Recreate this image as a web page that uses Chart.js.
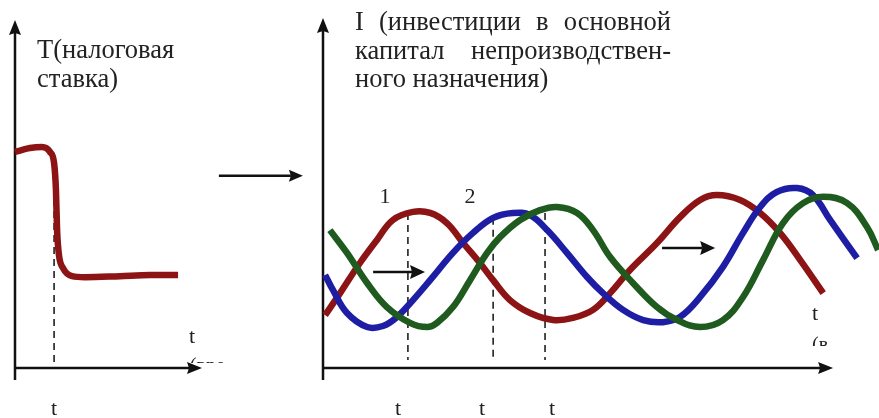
<!DOCTYPE html>
<html lang="ru">
<head>
<meta charset="utf-8">
<title>Налоговая ставка и инвестиции</title>
<script src="https://cdn.jsdelivr.net/npm/chart.js@4.4.1/dist/chart.umd.min.js"></script>
<style>
  html, body { margin: 0; padding: 0; background: #fff; }
  #wrap { position: relative; width: 879px; height: 418px; overflow: hidden;
          font-family: "Liberation Serif", "DejaVu Serif", serif; color: #222; }
  #wrap canvas { position: absolute; left: 0; top: 0; }
  .caption { position: absolute; font-size: 26.5px; line-height: 28.5px; }
  .caption div { white-space: nowrap; }
  #capT { left: 37px; top: 35px; }
  #capI { left: 355px; top: 7px; width: 316px; }
  #capI .just { white-space: normal; text-align: justify; text-align-last: justify; }
</style>
</head>
<body>
<div id="wrap">
  <canvas id="taxChart" width="879" height="418"></canvas>
  <canvas id="investChart" width="879" height="418"></canvas>
  <div class="caption" id="capT">
    <div>T(налоговая</div>
    <div>ставка)</div>
  </div>
  <div class="caption" id="capI">
    <div class="just">I (инвестиции в основной</div>
    <div class="just">капитал непроизводствен-</div>
    <div>ного назначения)</div>
  </div>
</div>
<script>
// === Data ===

// Left panel: tax rate T over time
const taxTime = [0, 0.8, 1.44, 1.87, 2.09, 2.19, 2.25, 2.35, 2.57, 3.05, 3.74, 5.61, 7.22, 8.72];
const taxRate = [6.21, 6.32, 6.35, 6.21, 5.89, 5.11, 3.97, 3.25, 2.87, 2.64, 2.61, 2.64, 2.67, 2.67];

// Right panel: investment curves I over time
const redTime = [0.07, 0.57, 1.23, 1.8, 2.33, 3.0, 3.57, 4.13, 4.67, 5.23, 5.67, 6.23, 6.9, 7.67, 8.33, 9.0, 9.57, 10.23, 11.13, 11.9, 12.57, 13.13, 13.9, 14.57, 15.23, 15.9, 16.67];
const redInvest = [1.51, 2.14, 3.0, 3.66, 4.23, 4.46, 4.43, 4.14, 3.57, 3.0, 2.51, 1.94, 1.57, 1.37, 1.43, 1.66, 2.14, 2.8, 3.57, 4.31, 4.8, 4.94, 4.8, 4.43, 3.86, 3.09, 2.14];

const blueTime = [0.07, 0.33, 0.8, 1.47, 2.0, 2.47, 3.0, 3.57, 4.33, 5.0, 5.67, 6.33, 6.9, 7.47, 8.13, 8.8, 9.33, 10.0, 10.67, 11.33, 11.9, 12.57, 13.33, 14.0, 14.57, 15.13, 15.8, 16.33, 16.9, 17.8];
const blueInvest = [2.66, 2.23, 1.57, 1.17, 1.2, 1.46, 1.94, 2.51, 3.29, 3.86, 4.29, 4.43, 4.37, 3.94, 3.29, 2.6, 2.14, 1.66, 1.37, 1.31, 1.46, 2.03, 2.89, 3.86, 4.6, 5.03, 5.14, 4.94, 4.23, 3.14];

const greenTime = [0.23, 0.8, 1.47, 2.13, 2.9, 3.47, 3.8, 4.33, 4.9, 5.47, 5.9, 6.57, 7.23, 7.8, 8.47, 9.0, 9.57, 10.33, 11.13, 11.8, 12.57, 13.33, 14.0, 14.67, 15.33, 16.0, 16.67, 17.47, 18.13, 18.5];
const greenInvest = [3.94, 3.29, 2.43, 1.74, 1.29, 1.17, 1.29, 1.74, 2.51, 3.29, 3.74, 4.23, 4.51, 4.6, 4.43, 3.94, 3.17, 2.43, 1.74, 1.37, 1.17, 1.37, 2.03, 3.09, 4.14, 4.71, 4.89, 4.71, 4.03, 3.37];

// Moments marked with dashed lines (time, curve level)
const taxMarkTime = [2.09];
const taxMarkLevel = [5.89];
const investMarkTime = [2.83, 5.67, 7.4];
const investMarkLevel = [4.43, 4.29, 4.43];

// Tick labels under the time axis
const taxTickTime = [2.09];
const taxTickLabels = ['t'];
const investTickTime = [2.5, 5.3, 7.63];
const investTickLabels = ['t', 't', 't'];

// Curve numbers
const curveLabelTime = [2.07, 4.9];
const curveLabels = ['1', '2'];

// Colors
const darkRed = '#8c1414';
const darkBlue = '#1e1ea4';
const darkGreen = '#1f5a1f';
const ink = '#111';
const textColor = '#222';

function toPoints(xs, ys) {
    return xs.map((x, i) => ({ x: x, y: ys[i] }));
}

function lineDataset(xs, ys, color, smooth) {
    const ds = {
        data: toPoints(xs, ys),
        borderColor: color,
        borderWidth: 6.5,
        borderCapStyle: 'butt',
        pointRadius: 0,
        fill: false,
        clip: false
    };
    if (smooth === 'monotone') {
        ds.cubicInterpolationMode = 'monotone';
    } else {
        ds.tension = 0.4;
    }
    return ds;
}

// Arrow helper: line plus filled head
function drawArrow(ctx, x1, y1, x2, y2, headLen, headHalf, width) {
    const ang = Math.atan2(y2 - y1, x2 - x1);
    const bx = x2 - headLen * Math.cos(ang);
    const by = y2 - headLen * Math.sin(ang);
    ctx.save();
    ctx.strokeStyle = ink;
    ctx.fillStyle = ink;
    ctx.lineWidth = width;
    ctx.setLineDash([]);
    ctx.beginPath();
    ctx.moveTo(x1, y1);
    ctx.lineTo(bx + 2 * Math.cos(ang), by + 2 * Math.sin(ang));
    ctx.stroke();
    ctx.beginPath();
    ctx.moveTo(x2, y2);
    ctx.lineTo(bx - headHalf * Math.sin(ang), by + headHalf * Math.cos(ang));
    ctx.lineTo(bx + 2 * Math.cos(ang), by + 2 * Math.sin(ang));
    ctx.lineTo(bx + headHalf * Math.sin(ang), by - headHalf * Math.cos(ang));
    ctx.closePath();
    ctx.fill();
    ctx.restore();
}

function drawAxes(ctx, a, xEnd) {
    drawArrow(ctx, a.left, a.bottom + 12, a.left, a.top, 15, 6, 2.5);
    drawArrow(ctx, a.left - 1, a.bottom, xEnd, a.bottom, 15, 6, 2.5);
}

function drawDashes(ctx, x, y, times, levels, bottomValue) {
    ctx.save();
    ctx.strokeStyle = ink;
    ctx.lineWidth = 1.5;
    ctx.setLineDash([7, 5]);
    times.forEach((t, i) => {
        const px = x.getPixelForValue(t);
        ctx.beginPath();
        ctx.moveTo(px, y.getPixelForValue(levels[i]));
        ctx.lineTo(px, y.getPixelForValue(bottomValue));
        ctx.stroke();
    });
    ctx.restore();
}

function drawText(ctx, text, px, py, size) {
    ctx.save();
    ctx.fillStyle = textColor;
    ctx.font = size + 'px "Liberation Serif", serif';
    ctx.textAlign = 'center';
    ctx.textBaseline = 'alphabetic';
    ctx.fillText(text, px, py);
    ctx.restore();
}

// Text cut off by the picture edge (only the top of the glyphs is visible)
function drawCutText(ctx, text, px, py, clipBottom) {
    ctx.save();
    ctx.beginPath();
    ctx.rect(px - 5, py - 25, 40, clipBottom - (py - 25));
    ctx.clip();
    ctx.fillStyle = textColor;
    ctx.font = '20px "Liberation Serif", serif';
    ctx.textAlign = 'left';
    ctx.fillText(text, px, py);
    ctx.restore();
}

const baseOptions = (padding, xMax) => ({
    responsive: false,
    animation: false,
    events: [],
    layout: { padding: padding },
    plugins: { legend: { display: false }, tooltip: { enabled: false } },
    scales: {
        x: { type: 'linear', min: 0, max: xMax, display: false },
        y: { type: 'linear', min: 0, max: 10, display: false }
    }
});

// === Left chart: tax rate ===
new Chart(document.getElementById('taxChart'), {
    type: 'line',
    data: { datasets: [lineDataset(taxTime, taxRate, darkRed, 'monotone')] },
    options: baseOptions({ left: 15, right: 677, top: 20, bottom: 50 }, 10),
    plugins: [{
        id: 'taxDecor',
        beforeDatasetsDraw(chart) {
            const { ctx, chartArea: a, scales: { x, y } } = chart;
            drawAxes(ctx, a, x.getPixelForValue(10));
            drawDashes(ctx, x, y, taxMarkTime, taxMarkLevel, 0);
        },
        afterDatasetsDraw(chart) {
            const { ctx, chartArea: a, scales: { x } } = chart;
            taxTickTime.forEach((t, i) => drawText(ctx, taxTickLabels[i], x.getPixelForValue(t), a.bottom + 47, 22));
            drawText(ctx, 't', x.getPixelForValue(9.47), a.bottom - 25, 22);
            drawCutText(ctx, '(вре', x.getPixelForValue(9.35), a.bottom + 4, a.bottom - 5);
        }
    }]
});

// === Right chart: investment ===
new Chart(document.getElementById('investChart'), {
    type: 'line',
    data: {
        datasets: [
            lineDataset(greenTime, greenInvest, darkGreen),
            lineDataset(blueTime, blueInvest, darkBlue),
            lineDataset(redTime, redInvest, darkRed)
        ]
    },
    options: baseOptions({ left: 323, right: 0, top: 18, bottom: 50 }, 18.53),
    plugins: [{
        id: 'investDecor',
        beforeDatasetsDraw(chart) {
            const { ctx, chartArea: a, scales: { x, y } } = chart;
            drawAxes(ctx, a, x.getPixelForValue(17));
            drawDashes(ctx, x, y, investMarkTime, investMarkLevel, 0.23);
        },
        afterDatasetsDraw(chart) {
            const { ctx, chartArea: a, scales: { x, y } } = chart;
            investTickTime.forEach((t, i) => drawText(ctx, investTickLabels[i], x.getPixelForValue(t), a.bottom + 47, 22));
            curveLabelTime.forEach((t, i) => drawText(ctx, curveLabels[i], x.getPixelForValue(t), y.getPixelForValue(4.71), 22));
            drawText(ctx, 't', x.getPixelForValue(16.4), a.bottom - 48, 22);
            drawCutText(ctx, '(в', x.getPixelForValue(16.3), a.bottom - 17, a.bottom - 22);
            // shift arrows
            drawArrow(ctx, x.getPixelForValue(1.67), y.getPixelForValue(2.74), x.getPixelForValue(3.4), y.getPixelForValue(2.74), 15, 7, 2.5);
            drawArrow(ctx, x.getPixelForValue(11.3), y.getPixelForValue(3.43), x.getPixelForValue(13.07), y.getPixelForValue(3.43), 15, 7, 2.5);
            // arrow from the tax panel to the investment panel
            drawArrow(ctx, x.getPixelForValue(-3.47), y.getPixelForValue(5.49), x.getPixelForValue(-0.67), y.getPixelForValue(5.49), 14, 6, 2.5);
        }
    }]
});
</script>
</body>
</html>
